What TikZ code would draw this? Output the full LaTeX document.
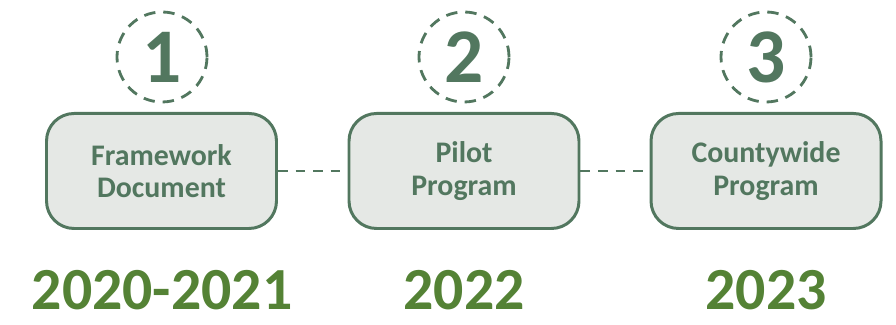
\documentclass[tikz,border=0pt]{standalone}
\usepackage{fontspec}
\setmainfont{Carlito}
\usepackage{tikz}
\definecolor{stepgreen}{HTML}{52775F}
\definecolor{stepfill}{HTML}{E5E8E5}
\definecolor{yeargreen}{HTML}{548235}
\tikzset{
  stagebox/.style={draw=stepgreen,fill=stepfill,line width=1.7pt,rounded corners=0.55cm,
    minimum width=4.6cm,minimum height=2.3cm,align=center,text=stepgreen,
    font=\fontsize{17}{18.5}\selectfont\bfseries},
  numcircle/.style={circle,draw=stepgreen,dash pattern=on 6.5pt off 4.5pt,line width=1.6pt,
    minimum size=1.8cm,inner sep=0pt,text=stepgreen,font=\fontsize{44}{44}\selectfont\bfseries},
  yearlabel/.style={anchor=base,inner sep=0pt,text=yeargreen,font=\fontsize{34}{34}\selectfont\bfseries},
  link/.style={draw=stepgreen,line width=1.6pt,dash pattern=on 5.5pt off 4.5pt}
}
\begin{document}
\begin{tikzpicture}[scale=1.0]
\useasboundingbox (0,0) rectangle (17.92,6.5);
% stage 1
\node[stagebox] (frame) at (3.23,3.08) {Framework\\Document};
\node[numcircle] (one) at (3.24,5.36) {1};
\node[yearlabel] (y1) at (3.24,0.3) {2020-2021};
% stage 2
\node[stagebox] (pilot) at (9.28,3.08) {Pilot\\Program};
\node[numcircle] (two) at (9.28,5.36) {2};
\node[yearlabel] (y2) at (9.28,0.3) {2022};
% stage 3
\node[stagebox] (county) at (15.32,3.08) {Countywide\\Program};
\node[numcircle] (three) at (15.32,5.36) {3};
\node[yearlabel] (y3) at (15.32,0.3) {2023};
% links
\draw[link] (frame.east) -- (pilot.west);
\draw[link] (pilot.east) -- (county.west);
\end{tikzpicture}
\end{document}
